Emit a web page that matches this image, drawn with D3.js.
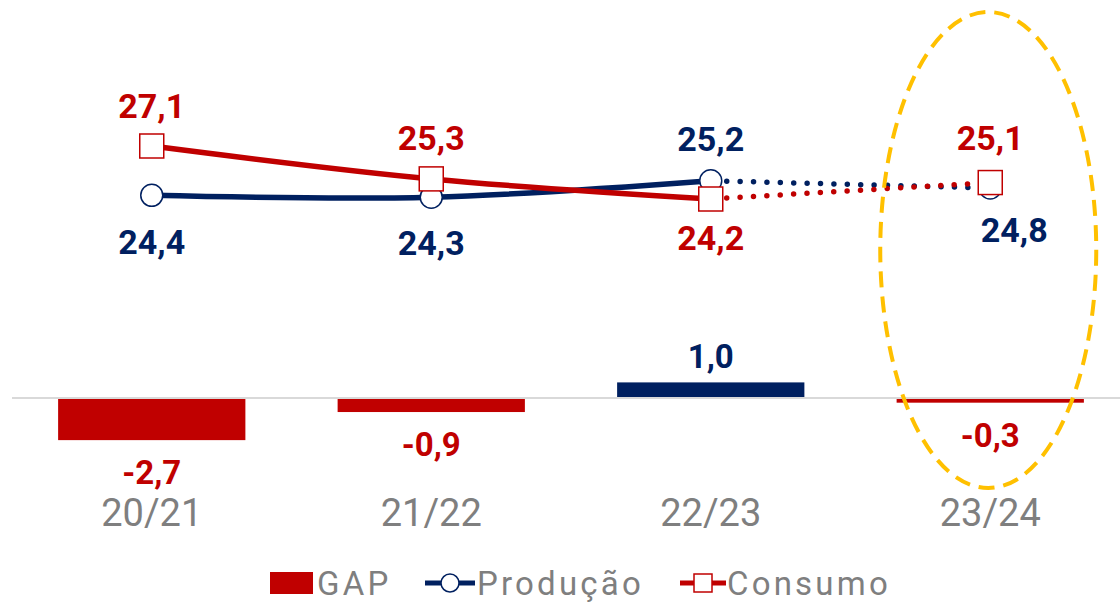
<!DOCTYPE html>
<html>
<head>
<meta charset="utf-8">
<script src="https://cdn.jsdelivr.net/npm/d3@7"></script>
<style>
  body { margin: 0; background: #fff; }
  svg { display: block; font-family: Roboto, "Noto Sans", sans-serif; }
</style>
</head>
<body>
<div id="container"></div>
<script>
/* CONSTANTS AND GLOBALS */
const width = 1120,
  height = 604;

const red = "#C00000",
  navy = "#002060",
  gray = "#7F7F7F";

/* DATA */
const safras = ["20/21", "21/22", "22/23", "23/24"];
const gap = [-2.7, -0.9, 1.0, -0.3];
const producao = [24.4, 24.3, 25.2, 24.8];
const consumo = [27.1, 25.3, 24.2, 25.1];

// pt-BR style: comma decimal, plain hyphen for the sign
const fmt = v => v.toFixed(1).replace(".", ",");

const svg = d3.select("#container")
  .append("svg")
  .attr("width", width)
  .attr("height", height);

// + SCALES
const xScale = d3.scaleBand()
  .domain(safras)
  .range([12, 1130])
  .paddingInner(0.33)
  .paddingOuter(0.165);

const xMid = d => xScale(d) + xScale.bandwidth() / 2;

// bars (GAP) on their own axis, zero line at ~398
const yBar = d3.scaleLinear()
  .domain([-3, 1.5])
  .range([398 + 3 * 15.6, 398 - 1.5 * 15.6]);

// lines on the secondary axis
const yLine = d3.scaleLinear()
  .domain([24.2, 27.1])
  .range([199, 146]);

// + BARS
svg.selectAll("rect.gap")
  .data(safras)
  .join("rect")
  .attr("class", "gap")
  .attr("x", d => xScale(d))
  .attr("width", xScale.bandwidth())
  .attr("y", (d, i) => yBar(Math.max(0, gap[i])))
  .attr("height", (d, i) => Math.abs(yBar(gap[i]) - yBar(0)))
  .attr("fill", (d, i) => gap[i] < 0 ? red : navy);

// zero line
svg.append("line")
  .attr("x1", 12)
  .attr("x2", width)
  .attr("y1", yBar(0))
  .attr("y2", yBar(0))
  .attr("stroke", "#D9D9D9")
  .attr("stroke-width", 2);

// bar labels
svg.selectAll("text.gaplabel")
  .data(safras)
  .join("text")
  .attr("class", "gaplabel")
  .attr("x", d => xMid(d))
  .attr("y", (d, i) => gap[i] < 0 ? yBar(gap[i]) + 44 : yBar(gap[i]) - 14)
  .attr("text-anchor", "middle")
  .attr("font-size", 33)
  .attr("font-weight", "bold")
  .attr("fill", (d, i) => gap[i] < 0 ? red : navy)
  .text((d, i) => fmt(gap[i]));

// + CATEGORY AXIS
const xAxis = svg.append("g")
  .attr("transform", `translate(0, ${yBar(0)})`)
  .call(d3.axisBottom(xScale).tickSize(0).tickPadding(128));
xAxis.select(".domain").remove();
xAxis.selectAll(".tick text")
  .attr("font-size", 38)
  .attr("font-family", "Roboto, sans-serif")
  .attr("fill", gray)
  .attr("dy", 0);

// + LINES
const solid = d3.line()
  .x(d => xMid(d.s))
  .y(d => yLine(d.v))
  .curve(d3.curveCatmullRom.alpha(0.5));

const straight = d3.line()
  .x(d => xMid(d.s))
  .y(d => yLine(d.v));

const series = [
  { name: "Produção", values: producao, color: navy },
  { name: "Consumo", values: consumo, color: red }
];

series.forEach(s => {
  const pts = safras.map((sf, i) => ({ s: sf, v: s.values[i] }));
  svg.append("path")
    .datum(pts.slice(0, 3))
    .attr("d", solid)
    .attr("fill", "none")
    .attr("stroke", s.color)
    .attr("stroke-width", 5.5);
  svg.append("path")
    .datum(pts.slice(2))
    .attr("d", straight)
    .attr("fill", "none")
    .attr("stroke", s.color)
    .attr("stroke-width", 5.5)
    .attr("stroke-linecap", "round")
    .attr("stroke-dasharray", "0 13.4")
    .attr("stroke-dashoffset", -16);
});

// markers: circles for Produção, squares for Consumo on top
svg.selectAll("circle.prod")
  .data(safras)
  .join("circle")
  .attr("class", "prod")
  .attr("cx", d => xMid(d))
  .attr("cy", (d, i) => yLine(producao[i]))
  .attr("r", 11)
  .attr("fill", "#fff")
  .attr("stroke", navy)
  .attr("stroke-width", 1.5);

svg.selectAll("rect.cons")
  .data(safras)
  .join("rect")
  .attr("class", "cons")
  .attr("x", d => xMid(d) - 12)
  .attr("y", (d, i) => yLine(consumo[i]) - 12)
  .attr("width", 24)
  .attr("height", 24)
  .attr("fill", "#fff")
  .attr("stroke", red)
  .attr("stroke-width", 1.5);

// value labels
const prodOffset = [[0, 59], [0, 58], [0, -30], [24, 54]];
const consOffset = [[0, -28], [0, -29], [0, 51], [0, -33]];

svg.selectAll("text.prodlabel")
  .data(safras)
  .join("text")
  .attr("class", "prodlabel")
  .attr("x", (d, i) => xMid(d) + prodOffset[i][0])
  .attr("y", (d, i) => yLine(producao[i]) + prodOffset[i][1])
  .attr("text-anchor", "middle")
  .attr("font-size", 34)
  .attr("font-weight", "bold")
  .attr("fill", navy)
  .text((d, i) => fmt(producao[i]));

svg.selectAll("text.conslabel")
  .data(safras)
  .join("text")
  .attr("class", "conslabel")
  .attr("x", (d, i) => xMid(d) + consOffset[i][0])
  .attr("y", (d, i) => yLine(consumo[i]) + consOffset[i][1])
  .attr("text-anchor", "middle")
  .attr("font-size", 34)
  .attr("font-weight", "bold")
  .attr("fill", red)
  .text((d, i) => fmt(consumo[i]));

// + HIGHLIGHT ELLIPSE around 23/24
svg.append("ellipse")
  .attr("cx", xMid("23/24") - 2)
  .attr("cy", 250)
  .attr("rx", 108)
  .attr("ry", 238)
  .attr("fill", "none")
  .attr("stroke", "#FFC000")
  .attr("stroke-width", 4)
  .attr("stroke-dasharray", "16 9");

// + LEGEND
const legend = svg.append("g").attr("transform", "translate(0, 583)");
const lgText = (x, t) => legend.append("text")
  .attr("x", x)
  .attr("y", 12)
  .attr("font-size", 33)
  .attr("letter-spacing", 3.2)
  .attr("fill", gray)
  .text(t);

legend.append("rect")
  .attr("x", 270).attr("y", -11)
  .attr("width", 43).attr("height", 22)
  .attr("fill", red);
lgText(317, "GAP");

legend.append("line")
  .attr("x1", 425).attr("x2", 475)
  .attr("stroke", navy).attr("stroke-width", 5);
legend.append("circle")
  .attr("cx", 450).attr("r", 9)
  .attr("fill", "#fff").attr("stroke", navy).attr("stroke-width", 1.5);
lgText(477, "Produção");

legend.append("line")
  .attr("x1", 680).attr("x2", 726)
  .attr("stroke", red).attr("stroke-width", 5);
legend.append("rect")
  .attr("x", 694).attr("y", -9)
  .attr("width", 18).attr("height", 18)
  .attr("fill", "#fff").attr("stroke", red).attr("stroke-width", 1.5);
lgText(727, "Consumo");
</script>
</body>
</html>
